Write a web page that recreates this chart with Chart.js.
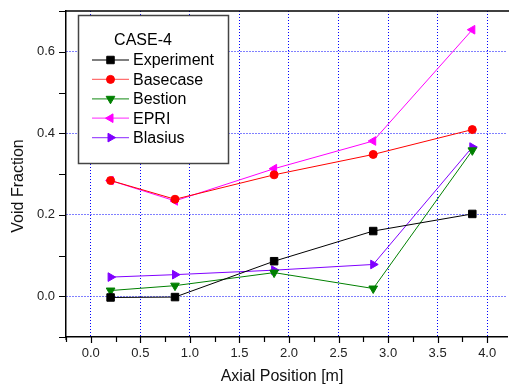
<!DOCTYPE html>
<html>
<head>
<meta charset="utf-8">
<script src="https://cdn.jsdelivr.net/npm/chart.js"></script>
<style>
  html, body { margin: 0; padding: 0; background: #fff; }
  canvas { display: block; }
</style>
</head>
<body>
<canvas id="voidChart" width="509" height="387"></canvas>
<script>
// Axial positions [m]
const positions = [0.2, 0.85, 1.85, 2.85, 3.85];

// Void fraction per case
const experiment = [-0.003, -0.002, 0.086, 0.160, 0.202];
const basecase   = [0.284, 0.238, 0.298, 0.348, 0.409];
const bestion    = [0.014, 0.026, 0.058, 0.019, 0.358];
const epri       = [0.284, 0.234, 0.313, 0.381, 0.654];
const blasius    = [0.047, 0.053, 0.064, 0.078, 0.366];

// Tick values
const xTicks = [-0.25, 0, 0.25, 0.5, 0.75, 1, 1.25, 1.5, 1.75, 2, 2.25, 2.5, 2.75, 3, 3.25, 3.5, 3.75, 4];
const yTicks = [-0.1, 0, 0.1, 0.2, 0.3, 0.4, 0.5, 0.6, 0.7];

const FONT = '"Liberation Sans", Arial, sans-serif';
const GRID = '#0000ff';

const isMajor = (v, step) => Math.abs(v / step - Math.round(v / step)) < 1e-6;
const toPoints = ys => ys.map((y, i) => ({ x: positions[i], y: y }));

function series(label, data, color, style, rotation, radius, legendLine) {
    return {
        label: label,
        data: toPoints(data),
        borderColor: color,
        backgroundColor: color,
        pointBorderColor: color,
        pointBackgroundColor: color,
        borderWidth: 1,
        pointStyle: style,
        rotation: rotation,
        pointRadius: radius,
        pointHoverRadius: radius,
        pointBorderWidth: 1,
        tension: 0,
        legendLine: legendLine
    };
}

// Frame, tick marks, axis titles and the boxed legend
const decorations = {
    id: 'decorations',
    afterDraw(chart) {
        const ctx = chart.ctx;
        const area = chart.chartArea;
        const xs = chart.scales.x;
        const ys = chart.scales.y;
        ctx.save();

        // top frame line
        ctx.strokeStyle = '#000';
        ctx.lineWidth = 1.5;
        ctx.beginPath();
        ctx.moveTo(area.left, area.top);
        ctx.lineTo(chart.width, area.top);
        ctx.stroke();

        // tick marks
        ctx.lineWidth = 1.2;
        ctx.beginPath();
        yTicks.forEach(v => {
            const py = Math.round(ys.getPixelForValue(v)) + 0.5;
            ctx.moveTo(area.left - 7, py);
            ctx.lineTo(area.left, py);
        });
        xTicks.forEach(v => {
            const px = Math.round(xs.getPixelForValue(v)) + 0.5;
            ctx.moveTo(px, area.bottom);
            ctx.lineTo(px, area.bottom + (isMajor(v, 0.5) ? 6 : 5));
        });
        ctx.moveTo(area.left, area.bottom);
        ctx.lineTo(area.left, area.bottom + 3);
        ctx.stroke();

        // axis titles
        ctx.fillStyle = '#111';
        ctx.font = '16px ' + FONT;
        ctx.textAlign = 'center';
        ctx.textBaseline = 'middle';
        ctx.fillText('Axial Position [m]', 282, 377);
        ctx.save();
        ctx.translate(19, 186);
        ctx.rotate(-Math.PI / 2);
        ctx.fillText('Void Fraction', 0, 0);
        ctx.restore();

        // legend box
        const box = { left: 78.5, top: 15.5, right: 228.5, bottom: 163.5 };
        ctx.fillStyle = '#fff';
        ctx.fillRect(box.left, box.top, box.right - box.left, box.bottom - box.top);
        ctx.strokeStyle = '#444';
        ctx.lineWidth = 1.5;
        ctx.strokeRect(box.left, box.top, box.right - box.left, box.bottom - box.top);

        ctx.fillStyle = '#000';
        ctx.font = '16px ' + FONT;
        ctx.textAlign = 'center';
        ctx.fillText('CASE-4', 143, 41);

        ctx.textAlign = 'left';
        chart.data.datasets.forEach((ds, i) => {
            const cy = 60 + i * 19.4;
            ctx.strokeStyle = ds.legendLine;
            ctx.lineWidth = 1.2;
            ctx.beginPath();
            ctx.moveTo(92, cy);
            ctx.lineTo(129, cy);
            ctx.stroke();
            ctx.fillStyle = ds.backgroundColor;
            ctx.strokeStyle = ds.borderColor;
            ctx.lineWidth = 1;
            Chart.helpers.drawPoint(ctx, {
                pointStyle: ds.pointStyle,
                rotation: ds.rotation,
                radius: ds.pointRadius,
                borderWidth: 1
            }, 110.5, cy);
            ctx.fillStyle = '#000';
            ctx.fillText(ds.label, 133, cy + 1);
        });

        ctx.restore();
    }
};

new Chart(document.getElementById('voidChart'), {
    type: 'line',
    data: {
        datasets: [
            series('Experiment', experiment, '#000000', 'rect', 0, 5.3, '#000000'),
            series('Basecase', basecase, '#ff0000', 'circle', 0, 4, '#ff7070'),
            series('Bestion', bestion, '#008000', 'triangle', 180, 5, '#40a040'),
            series('EPRI', epri, '#ff00ff', 'triangle', -90, 5, '#ff50ff'),
            series('Blasius', blasius, '#8000ff', 'triangle', 90, 5, '#a050ff')
        ]
    },
    options: {
        responsive: false,
        animation: false,
        devicePixelRatio: 1,
        layout: { autoPadding: false, padding: { left: 0, top: 11, right: 2, bottom: 0 } },
        plugins: {
            legend: { display: false },
            tooltip: { enabled: false }
        },
        scales: {
            x: {
                type: 'linear',
                min: -0.25,
                max: 4.2,
                afterBuildTicks: scale => {
                    scale.ticks = xTicks.map(v => ({ value: v }));
                },
                afterFit: scale => {
                    scale.height = 50;
                    scale.paddingLeft = 0;
                    scale.paddingRight = 0;
                },
                ticks: {
                    autoSkip: false,
                    maxRotation: 0,
                    padding: 9,
                    color: '#222',
                    font: { family: FONT, size: 13 },
                    callback: v => isMajor(v, 0.5) ? v.toFixed(1) : ''
                },
                grid: {
                    drawTicks: false,
                    lineWidth: 1,
                    color: c => (c.tick && isMajor(c.tick.value, 0.5) && c.tick.value >= 0) ? GRID : 'rgba(0,0,0,0)'
                },
                border: { display: true, color: '#000', width: 1.5, dash: [1, 2] }
            },
            y: {
                type: 'linear',
                min: -0.1,
                max: 0.7,
                afterBuildTicks: scale => {
                    scale.ticks = yTicks.map(v => ({ value: v }));
                },
                afterFit: scale => {
                    scale.width = 66;
                    scale.paddingTop = 0;
                    scale.paddingBottom = 0;
                },
                ticks: {
                    autoSkip: false,
                    padding: 11,
                    color: '#222',
                    font: { family: FONT, size: 13 },
                    callback: v => (isMajor(v, 0.2) && v >= 0 && v < 0.65) ? v.toFixed(1) : ''
                },
                grid: {
                    drawTicks: false,
                    lineWidth: 1,
                    color: c => (c.tick && isMajor(c.tick.value, 0.2) && c.tick.value >= -0.01 && c.tick.value < 0.65) ? GRID : 'rgba(0,0,0,0)'
                },
                border: { display: true, color: '#000', width: 1.5, dash: [1, 2] }
            }
        }
    },
    plugins: [decorations]
});
</script>
</body>
</html>
